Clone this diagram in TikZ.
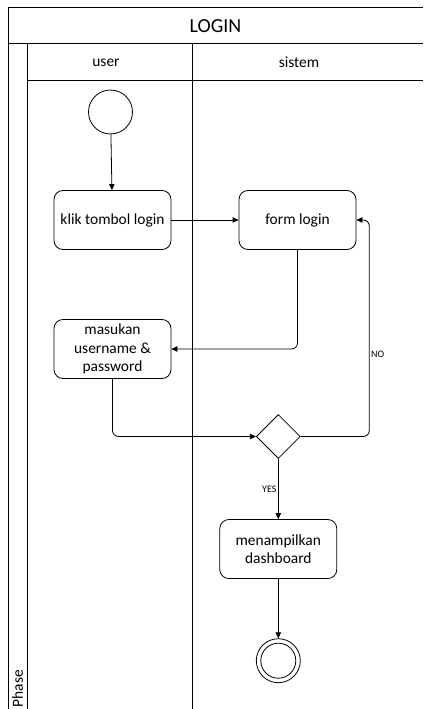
\documentclass[tikz,border=0pt]{standalone}
\usepackage{fontspec}
\setmainfont{Carlito}
\usetikzlibrary{shapes.geometric,arrows.meta}
\tikzset{
  lane/.style={line width=1bp, draw=black},
  act/.style={draw, line width=0.8bp, rounded corners=9bp, minimum width=117bp,
    minimum height=59bp, align=center, inner sep=2bp,
    font=\fontsize{15.5}{18.5}\selectfont},
  startc/.style={draw, circle, line width=0.8bp, minimum size=44bp, inner sep=0pt},
  dec/.style={draw, diamond, aspect=1, line width=0.8bp, minimum width=44bp,
    minimum height=44bp, inner sep=0pt},
  arr/.style={line width=0.8bp, -{Triangle[length=6bp,width=5.5bp]}, rounded corners=6bp},
  hdr/.style={font=\fontsize{15.5}{18}\selectfont, inner sep=0pt},
  ylbl/.style={font=\fontsize{10}{12}\selectfont, inner sep=1.5bp}
}
\begin{document}
\begin{tikzpicture}[x=1bp, y=-1bp]
\useasboundingbox (0,0) rectangle (423,709);

% pool and swimlanes
\draw[lane] (423,8) -- (8,8) -- (8,709);
\draw[lane] (8,44) -- (423,44);
\draw[lane] (27,44) -- (27,709);
\draw[lane] (27,81) -- (423,81);
\draw[lane] (192,44) -- (192,709);

\node[hdr, font=\fontsize{20}{24}\selectfont] (title) at (215.5,26) {LOGIN};
\node[hdr] (luser) at (106,62.5) {user};
\node[hdr] (lsys) at (299,62.5) {sistem};
\node[hdr, rotate=90, anchor=west] (phase) at (17.5,707.5) {Phase};

% activity nodes
\node[startc] (start) at (110.5,112) {};
\node[act] (klik) at (112.5,220) {klik tombol login};
\node[act] (form) at (297.5,220) {form login};
\node[act] (masuk) at (112.5,349) {masukan\\username \&\\password};
\node[dec] (dec) at (278.3,436.5) {};
\node[act] (dash) at (278.3,549) {menampilkan\\dashboard};
\node[startc] (end) at (278.3,660.7) {};
\draw[line width=0.8bp] (end.center) circle (17.5bp);
\coordinate (noturn) at (369.3,436.5);

% flows
\draw[arr] (start) -- (klik);
\draw[arr] (klik.east) -- (form.west);
\draw[arr] (form.south) |- (masuk.east);
\draw[arr] (masuk.south) |- (dec.west);
\draw[arr] (dec.east) -- (noturn) |- node[pos=0.19, right, ylbl] {NO} (form.east);
\draw[arr] (dec.south) -- node[midway, left, ylbl] {YES} (dash.north);
\draw[arr] (dash) -- (end);
\end{tikzpicture}
\end{document}
